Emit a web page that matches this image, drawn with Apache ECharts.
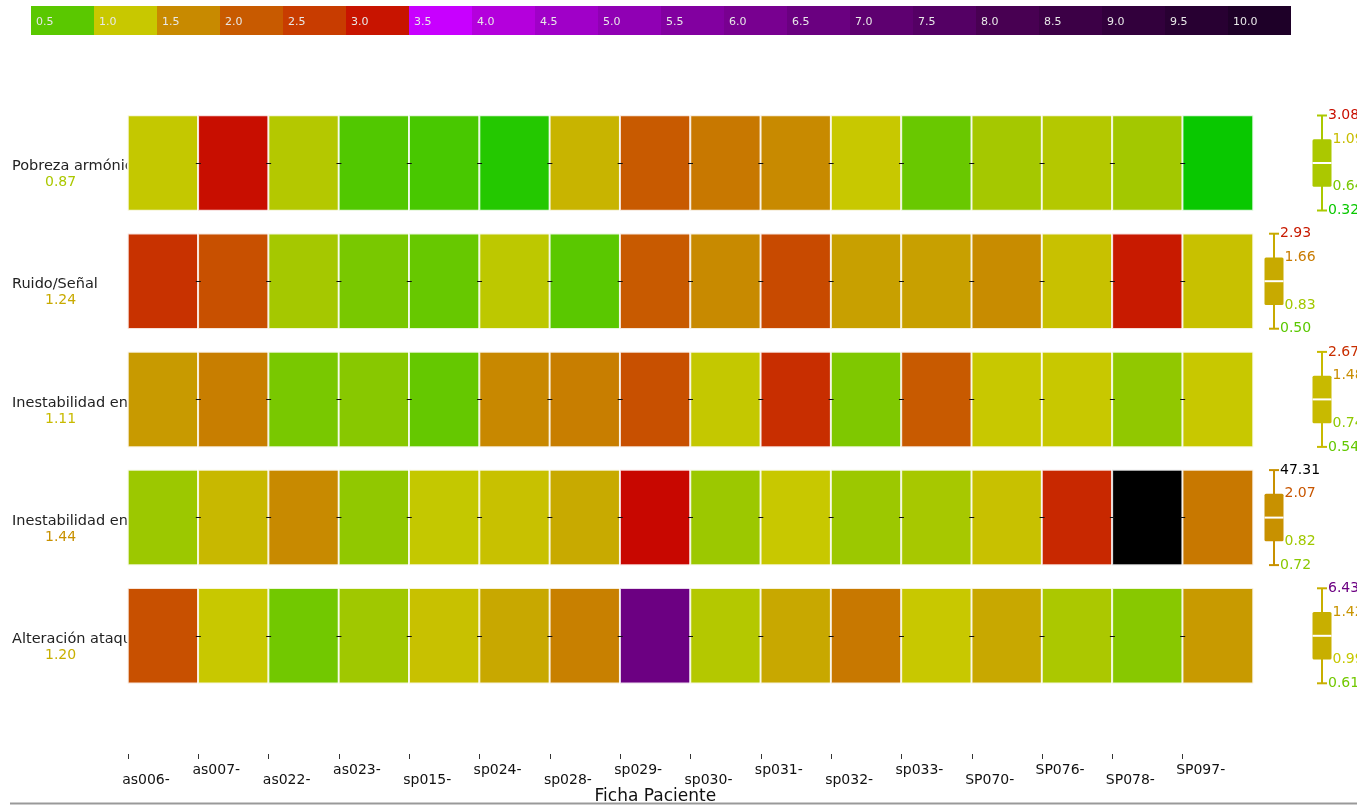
<!DOCTYPE html>
<html>
<head>
<meta charset="utf-8">
<script src="https://cdn.jsdelivr.net/npm/echarts/dist/echarts.min.js"></script>
<style>
  html, body { margin: 0; padding: 0; background: #fff; }
  #main { width: 1357px; height: 806px; }
</style>
</head>
<body>
<div id="main"></div>
<script>
const patients = ['as006-', 'as007-', 'as022-', 'as023-', 'sp015-', 'sp024-', 'sp028-', 'sp029-',
  'sp030-', 'sp031-', 'sp032-', 'sp033-', 'SP070-', 'SP076-', 'SP078-', 'SP097-'];
const features = ['Pobreza armónica', 'Ruido/Señal', 'Inestabilidad en frecuencia',
  'Inestabilidad en amplitud', 'Alteración ataque'];

const pobrezaArmonica = [0.98, 3.08, 0.91, 0.48, 0.46, 0.38, 1.16, 2.00, 1.69, 1.50, 1.00, 0.57, 0.84, 0.91, 0.83, 0.32];
const ruidoSenal = [2.63, 2.17, 0.84, 0.64, 0.56, 0.95, 0.50, 2.00, 1.50, 2.27, 1.32, 1.32, 1.48, 1.06, 2.93, 1.06];
const inestFrecuencia = [1.37, 1.62, 0.64, 0.71, 0.55, 1.52, 1.62, 2.17, 0.98, 2.67, 0.67, 2.00, 1.00, 1.00, 0.75, 1.00];
const inestAmplitud = [0.80, 1.13, 1.50, 0.75, 0.98, 1.06, 1.24, 3.20, 0.80, 1.00, 0.80, 0.85, 1.06, 2.75, 47.31, 1.69];
const alteracionAtaque = [2.17, 1.00, 0.61, 0.82, 1.06, 1.26, 1.60, 6.43, 0.91, 1.26, 1.69, 1.00, 1.26, 0.87, 0.71, 1.37];
const rows = [pobrezaArmonica, ruidoSenal, inestFrecuencia, inestAmplitud, alteracionAtaque];

// resumen por fila (boxplot de la derecha)
const statMin = [0.32, 0.50, 0.54, 0.72, 0.61];
const statQ1 = [0.64, 0.83, 0.74, 0.82, 0.99];
const statMedian = [0.87, 1.24, 1.11, 1.44, 1.20];
const statQ3 = [1.09, 1.66, 1.48, 2.07, 1.42];
const statMax = [3.08, 2.93, 2.67, 47.31, 6.43];

const scaleLabels = ['0.5', '1.0', '1.5', '2.0', '2.5', '3.0', '3.5', '4.0', '4.5', '5.0',
  '5.5', '6.0', '6.5', '7.0', '7.5', '8.0', '8.5', '9.0', '9.5', '10.0'];

// escala de color
const stopValues = [0.3, 0.5, 1.0, 1.5, 2.0, 2.5, 3.0, 3.3, 3.5, 4.0, 4.5, 5.0, 5.5, 6.0,
  6.5, 7.0, 7.5, 8.0, 8.5, 9.0, 9.5, 10.0, 10.5];
const stopColors = ['#00c800', '#5ac800', '#c8c800', '#c88a00', '#c85a00', '#c83c00', '#c81400',
  '#c80000', '#c800ff', '#b400dc', '#a000c8', '#9000b4', '#8200a0', '#780090', '#6a0080',
  '#5e0070', '#540064', '#480052', '#3c0046', '#32003c', '#280032', '#1e0028', '#000000'];

function hexRgb(h) {
  return [parseInt(h.slice(1, 3), 16), parseInt(h.slice(3, 5), 16), parseInt(h.slice(5, 7), 16)];
}
function colorFor(v) {
  if (v <= stopValues[0]) return stopColors[0];
  for (let k = 1; k < stopValues.length; k++) {
    if (v <= stopValues[k]) {
      const t = (v - stopValues[k - 1]) / (stopValues[k] - stopValues[k - 1]);
      const a = hexRgb(stopColors[k - 1]), b = hexRgb(stopColors[k]);
      const c = a.map((x, j) => Math.round(x + (b[j] - x) * t));
      return 'rgb(' + c.join(',') + ')';
    }
  }
  return stopColors[stopColors.length - 1];
}
const mapColors = [];
for (let k = 0; k <= 105; k++) mapColors.push(colorFor(k / 10));

const font = 'DejaVu Sans';
const grids = [], xAxes = [], yAxes = [], series = [];

// barra de la escala arriba
grids.push({left: 31, top: 6, width: 1260, height: 29, outerBoundsMode: 'none'});
xAxes.push({gridIndex: 0, type: 'category', data: scaleLabels, show: false});
yAxes.push({gridIndex: 0, type: 'value', min: 0, max: 1, show: false});
series.push({
  type: 'bar', xAxisIndex: 0, yAxisIndex: 0, silent: true,
  barWidth: '100%', barCategoryGap: 0,
  data: scaleLabels.map(l => ({value: 1, itemStyle: {color: colorFor(parseFloat(l))}})),
  label: {
    show: true, position: 'insideLeft', distance: 5, offset: [0, 1.5],
    formatter: p => p.name, color: '#e8e8e8', fontSize: 11, fontFamily: font
  }
});

const rowTop = i => 115.5 + i * 118.2;
const cellW = 1125 / 16;

// filas del heatmap
features.forEach((name, i) => {
  const g = grids.length;
  grids.push({left: 128, width: 1125, top: rowTop(i), height: 95, outerBoundsMode: 'none'});
  xAxes.push({gridIndex: g, type: 'category', data: patients, show: false});
  yAxes.push({
    gridIndex: g, type: 'category', data: [name],
    axisLine: {show: false}, axisTick: {show: false},
    axisLabel: {
      align: 'left', margin: 116, padding: [23, 0, 0, 0],
      width: 184, overflow: 'truncate', ellipsis: '',
      formatter: v => '{n|' + v + '}\n{v|' + statMedian[i].toFixed(2) + '}',
      rich: {
        n: {fontSize: 14.5, fontFamily: font, color: '#222', lineHeight: 16},
        v: {fontSize: 14, fontFamily: font, color: colorFor(statMedian[i]), lineHeight: 16, padding: [0, 0, 0, 33]}
      }
    }
  });
  series.push({
    type: 'heatmap', xAxisIndex: g, yAxisIndex: g,
    data: rows[i].map((v, c) => [c, 0, v]),
    itemStyle: {borderColor: 'rgba(255,255,255,0.85)', borderWidth: 2},
    emphasis: {disabled: true},
    // raya central que asoma entre las celdas
    markLine: {
      silent: true, symbol: ['none', 'none'], label: {show: false},
      lineStyle: {color: '#111', width: 1, type: [5, cellW - 5], dashOffset: cellW / 2 + 2.5},
      data: [[{coord: [0, name]}, {coord: [patients.length - 1, name]}]]
    }
  });
});

// boxplots esquematicos a la derecha
features.forEach((name, i) => {
  const g = grids.length;
  const cx = i % 2 === 0 ? 1322 : 1274;
  grids.push({left: cx - 30, width: 60, top: rowTop(i), height: 95, outerBoundsMode: 'none'});
  xAxes.push({gridIndex: g, type: 'value', min: -1, max: 1, show: false});
  yAxes.push({gridIndex: g, type: 'value', min: 0, max: 4, show: false});
  const stats = [statMin[i], statQ1[i], statMedian[i], statQ3[i], statMax[i]];
  series.push({
    type: 'custom', xAxisIndex: g, yAxisIndex: g, clip: false, silent: true,
    data: [[0, 2]],
    renderItem: (params, api) => {
      const x = api.coord([0, 0])[0];
      const y = k => api.coord([0, k])[1];
      const col = colorFor(statMedian[i]);
      const bw = 9.5, cw = 5;
      const txt = (k, dx) => ({
        type: 'text',
        style: {
          text: stats[k].toFixed(2), x: x + dx, y: y(k), align: 'left', verticalAlign: 'middle',
          fill: colorFor(stats[k]), font: '14px ' + font
        }
      });
      return {
        type: 'group',
        children: [
          {type: 'line', shape: {x1: x, y1: y(0), x2: x, y2: y(4)}, style: {stroke: col, lineWidth: 2}},
          {type: 'line', shape: {x1: x - cw, y1: y(0), x2: x + cw, y2: y(0)}, style: {stroke: col, lineWidth: 2}},
          {type: 'line', shape: {x1: x - cw, y1: y(4), x2: x + cw, y2: y(4)}, style: {stroke: col, lineWidth: 2}},
          {type: 'rect', shape: {x: x - bw, y: y(3), width: bw * 2, height: y(1) - y(3), r: 1.5}, style: {fill: col}},
          {type: 'rect', shape: {x: x - bw, y: y(2) - 1, width: bw * 2, height: 2}, style: {fill: '#fff'}},
          txt(4, cw + 1), txt(3, bw + 1), txt(1, bw + 1), txt(0, cw + 1)
        ]
      };
    }
  });
});

// eje x con los pacientes
const gx = grids.length;
grids.push({left: 128, width: cellW * 15, top: 700, height: 54, outerBoundsMode: 'none'});
xAxes.push({
  gridIndex: gx, type: 'category', data: patients, boundaryGap: false,
  axisLine: {show: false},
  axisTick: {show: true, length: 5, interval: 0, lineStyle: {color: '#333'}},
  axisLabel: {
    interval: 0, margin: 9,
    formatter: (v, idx) => (idx % 2 === 0 ? '{lo|' : '{hi|') + v + '}',
    rich: {
      lo: {fontSize: 14, fontFamily: font, color: '#111', padding: [10, 0, 0, 36]},
      hi: {fontSize: 14, fontFamily: font, color: '#111', padding: [0, 0, 0, 36]}
    }
  },
  name: 'Ficha Paciente', nameLocation: 'middle', nameGap: 31,
  nameTextStyle: {fontSize: 17, fontFamily: font, color: '#111'}
});
yAxes.push({gridIndex: gx, type: 'value', show: false});

const chart = echarts.init(document.getElementById('main'));
chart.setOption({
  animation: false,
  grid: grids,
  xAxis: xAxes,
  yAxis: yAxes,
  visualMap: {
    show: false, type: 'continuous', seriesIndex: [1, 2, 3, 4, 5], dimension: 2,
    min: 0, max: 10.5, inRange: {color: mapColors}
  },
  graphic: [{
    type: 'line', silent: true,
    shape: {x1: 10, y1: 803.5, x2: 1357, y2: 803.5},
    style: {stroke: '#999', lineWidth: 2}
  }],
  series: series
});
</script>
</body>
</html>
